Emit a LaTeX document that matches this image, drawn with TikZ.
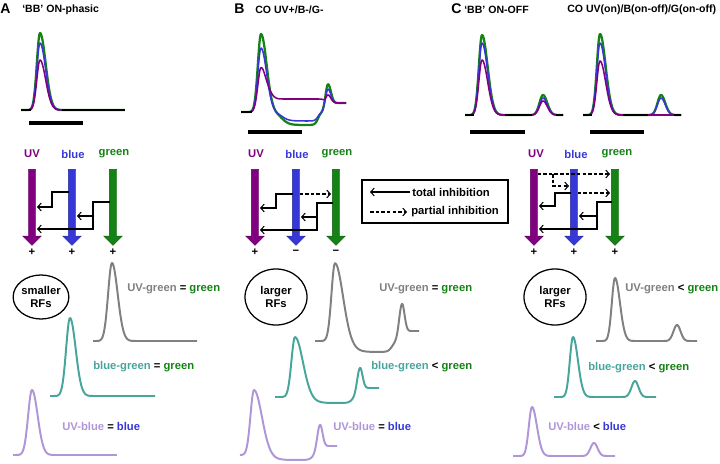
\documentclass[tikz,border=0pt]{standalone}
\usepackage{fontspec}
\setmainfont{Liberation Sans}
\usetikzlibrary{arrows.meta,calc,shapes.arrows,shapes.geometric}

\definecolor{uvcol}{RGB}{128,0,128}
\definecolor{bluecol}{RGB}{55,55,215}
\definecolor{greencol}{RGB}{20,130,20}
\definecolor{graycol}{RGB}{128,128,128}
\definecolor{tealcol}{RGB}{72,165,155}
\definecolor{lavcol}{RGB}{175,150,215}

\tikzset{
  lbl/.style={font=\bfseries\fontsize{8}{9.3}\selectfont, inner sep=0pt, anchor=west},
  ttl/.style={lbl, font=\bfseries\fontsize{7.5}{9}\selectfont},
  plabel/.style={lbl, font=\bfseries\fontsize{10}{12}\selectfont},
  hd/.style={lbl, anchor=center},
  conebar/.style={single arrow, shape border rotate=270, minimum height=1.9cm,
    inner sep=0.0875cm, single arrow head extend=0.14cm,
    fill=#1, draw=#1!70!black, line width=0.3pt},
  inhib/.style={line width=0.75pt, -{Straight Barb[length=2.5pt,width=5.5pt]}},
  partinh/.style={inhib, dash pattern=on 2.5pt off 1.5pt},
  sbar/.style={line width=2.2pt},
  rf/.style={ellipse, draw, line width=0.9pt, inner sep=0pt, align=center,
    font=\bfseries\fontsize{8}{9.3}\selectfont},
  resp/.style={line width=1.1pt, line join=round},
  diffresp/.style={line width=1.4pt, line join=round},
}

\begin{document}
\begin{tikzpicture}[x=0.025cm, y=-0.025cm,
  declare function={
    pk(\xv,\cv,\rv,\dv)=exp(-1*(min(abs(\xv-\cv)/((\xv<\cv)*\rv+(1-(\xv<\cv))*\dv),4))^2);
    st(\xv,\cv,\sv)=0.5+0.5*tanh(max(min((\xv-\cv)/\sv,4),-4));
  }]
  \useasboundingbox (0,0) rectangle (720,464);

  % Panel letters and titles
  \node[plabel] (labA) at (0,9) {A};
  \node[ttl] (titA) at (22,10) {‘BB’ ON-phasic};
  \node[plabel] (labB) at (234,9) {B};
  \node[ttl] (titB) at (255,10) {CO UV+/B-/G-};
  \node[plabel] (labC) at (451,9) {C};
  \node[ttl] (titC) at (464,10) {‘BB’ ON-OFF};
  \node[ttl] (titCo) at (567,10) {CO UV(on)/B(on-off)/G(on-off)};

  % Recorded responses, panel A
  \foreach \col/\amp/\lw in {greencol/77/1.6pt, bluecol/67/1.1pt, uvcol/50/1.1pt}
    \draw[resp, \col, line width=\lw] plot[domain=21:125, samples=200] (\x,{110-\amp*pk(\x,40,4.5,8)});
  \draw[resp, black] (21,110) -- (31,110) (62,110) -- (125,110);
  \draw[sbar] (29,123) -- (83,123);

  % Recorded responses, panel B
  \draw[resp, greencol, line width=1.6pt] plot[domain=241:346, samples=200]
    (\x,{112-78*pk(\x,261,4.5,8)+13*(st(\x,282,7)-st(\x,318,3))-19*pk(\x,328,3,4)-9*st(\x,324,2)});
  \draw[resp, bluecol] plot[domain=241:346, samples=200]
    (\x,{112-64*pk(\x,261,4.5,8)+9*(st(\x,282,7)-st(\x,318,3))-14*pk(\x,328,3,4)-9*st(\x,324,2)});
  \draw[resp, uvcol] plot[domain=241:346, samples=200]
    (\x,{112-44*pk(\x,261,4.5,8)-13*(st(\x,268,4)-st(\x,324,2))-8*pk(\x,328,3,4)-9*st(\x,324,2)});
  \draw[resp, black] (241,112) -- (252,112);
  \draw[sbar] (248,132) -- (302,132);

  % Recorded responses, panel C
  \foreach \col/\amp/\bmp/\lw in {greencol/80/20/1.6pt, bluecol/72/17/1.1pt, uvcol/55/14/1.1pt}
    \draw[resp, \col, line width=\lw] plot[domain=465:563, samples=200]
      (\x,{115-\amp*pk(\x,482,4.5,8)-\bmp*pk(\x,543,5,6)});
  \draw[resp, black] (465,115) -- (474,115) (505,115) -- (532,115) (556,115) -- (563,115);
  \draw[sbar] (470,132) -- (525,132);
  \foreach \col/\amp/\bmp/\lw in {greencol/81/20/1.6pt, bluecol/72/17/1.1pt, uvcol/54/0/1.1pt}
    \draw[resp, \col, line width=\lw] plot[domain=583:681, samples=200]
      (\x,{115-\amp*pk(\x,600,4.5,8)-\bmp*pk(\x,661,5,6)});
  \draw[resp, black] (583,115) -- (592,115) (623,115) -- (648,115) (674,115) -- (681,115);
  \draw[sbar] (590,132) -- (644,132);

  % Cone inputs, panel A
  \node[conebar=uvcol] (uvA) at (32,205.5) {};
  \node[conebar=bluecol] (blueA) at (72,205.5) {};
  \node[conebar=greencol] (greenA) at (113,205.5) {};
  \node[hd, text=uvcol] (uvAl) at (32,154) {UV};
  \node[hd, text=bluecol] (blueAl) at (73,154) {blue};
  \node[hd, text=greencol] (greenAl) at (114,154) {green};
  \node[hd] (uvAs) at (32,252) {+};
  \node[hd] (blueAs) at (72,252) {+};
  \node[hd] (greenAs) at (113,252) {+};
  \draw[inhib] ($(blueA |- 0,192)+(-3.5,0)$) -| (52,207) -- ($(uvA |- 0,207)+(5,0)$);
  \draw[inhib] ($(greenA |- 0,202)+(-3.5,0)$) -| (93,229) -- ($(uvA |- 0,229)+(5,0)$);
  \draw[inhib] (93,216) -- ($(blueA |- 0,216)+(5,0)$);

  % Cone inputs, panel B
  \node[conebar=uvcol] (uvB) at (255,205.5) {};
  \node[conebar=bluecol] (blueB) at (296,205.5) {};
  \node[conebar=greencol] (greenB) at (336,205.5) {};
  \node[hd, text=uvcol] (uvBl) at (256,154) {UV};
  \node[hd, text=bluecol] (blueBl) at (297,154) {blue};
  \node[hd, text=greencol] (greenBl) at (337,154) {green};
  \node[hd] (uvBs) at (255,252) {+};
  \node[hd] (blueBs) at (296,252) {−};
  \node[hd] (greenBs) at (336,252) {−};
  \draw[inhib] ($(blueB |- 0,194)+(-3.5,0)$) -| (276,208) -- ($(uvB |- 0,208)+(5,0)$);
  \draw[partinh] ($(blueB |- 0,194)+(3.5,0)$) -- ($(greenB |- 0,194)+(-5,0)$);
  \draw[inhib] ($(greenB |- 0,203)+(-3.5,0)$) -| (317,230) -- ($(uvB |- 0,230)+(5,0)$);
  \draw[inhib] (317,217) -- ($(blueB |- 0,217)+(5,0)$);

  % Legend
  \node[draw, line width=0.9pt, minimum width=3.65cm, minimum height=1.075cm] (legend) at (435,201.5) {};
  \node[lbl] (total) at (412,192) {total inhibition};
  \node[lbl] (partial) at (411,212) {partial inhibition};
  \draw[inhib] ($(total.west)+(-2,0)$) -- ++(-40,0);
  \draw[partinh] ($(partial.west)+(-41,0)$) -- ++(37,0);

  % Cone inputs, panel C
  \node[conebar=uvcol] (uvC) at (534,205.5) {};
  \node[conebar=bluecol] (blueC) at (574,205.5) {};
  \node[conebar=greencol] (greenC) at (615,205.5) {};
  \node[hd, text=uvcol] (uvCl) at (536,154) {UV};
  \node[hd, text=bluecol] (blueCl) at (576,154) {blue};
  \node[hd, text=greencol] (greenCl) at (617,154) {green};
  \node[hd] (uvCs) at (534,252) {+};
  \node[hd] (blueCs) at (574,252) {+};
  \node[hd] (greenCs) at (615,252) {+};
  \draw[partinh] ($(uvC |- 0,174)+(3.5,0)$) -- ($(greenC |- 0,174)+(-5,0)$);
  \draw[partinh] (553,174) |- ($(blueC |- 0,186)+(-5,0)$);
  \draw[partinh] ($(blueC |- 0,193)+(3.5,0)$) -- ($(greenC |- 0,193)+(-5,0)$);
  \draw[inhib] ($(blueC |- 0,193)+(-3.5,0)$) -| (555,206) -- ($(uvC |- 0,206)+(5,0)$);
  \draw[inhib] ($(greenC |- 0,202)+(-3.5,0)$) -| (597,229) -- ($(uvC |- 0,229)+(5,0)$);
  \draw[inhib] (597,216) -- ($(blueC |- 0,216)+(5,0)$);

  % Receptive fields
  \node[rf, minimum width=1.17cm, minimum height=1.1cm] (rfA) at (41,297) {smaller\\RFs};
  \node[rf, minimum width=1.55cm, minimum height=1.4cm] (rfB) at (276,297) {larger\\RFs};
  \node[rf, minimum width=1.55cm, minimum height=1.4cm] (rfC) at (555,297) {larger\\RFs};

  % Difference traces, panel A
  \draw[diffresp, graycol] plot[domain=93:197, samples=200] (\x,{341-78*pk(\x,112,5.5,8)});
  \draw[diffresp, tealcol] plot[domain=50:155, samples=200] (\x,{396-78*pk(\x,70,5.5,8)});
  \draw[diffresp, lavcol] plot[domain=13:117, samples=200] (\x,{455-65*pk(\x,32,5.5,8)});
  \node[lbl] (ugA) at (127,289) {\textcolor{graycol}{UV-green} = \textcolor{greencol}{green}};
  \node[lbl] (bgA) at (93,367) {\textcolor{tealcol}{blue-green} = \textcolor{greencol}{green}};
  \node[lbl] (ubA) at (62,426) {\textcolor{lavcol}{UV-blue} = \textcolor{bluecol}{blue}};

  % Difference traces, panel B
  \draw[diffresp, graycol] plot[domain=315:419, samples=200]
    (\x,{341-78*pk(\x,335,5,11)+11*(st(\x,352,9)-st(\x,392,4))-28*pk(\x,402,4,3.5)-10*st(\x,399,2.5)});
  \draw[diffresp, tealcol] plot[domain=275:379, samples=200]
    (\x,{397-60*pk(\x,295,5,11)+6*(st(\x,312,9)-st(\x,352,4))-21*pk(\x,360,4,3.5)-9*st(\x,357,2.5)});
  \draw[diffresp, lavcol] plot[domain=240:337, samples=200]
    (\x,{455-65*pk(\x,254,5,11)+5*(st(\x,272,9)-st(\x,312,4))-22*pk(\x,320,4,3.5)-9*st(\x,317,2.5)});
  \node[lbl] (ugB) at (379,289) {\textcolor{graycol}{UV-green} = \textcolor{greencol}{green}};
  \node[lbl] (bgB) at (371,367) {\textcolor{tealcol}{blue-green} < \textcolor{greencol}{green}};
  \node[lbl] (ubB) at (333,426) {\textcolor{lavcol}{UV-blue} = \textcolor{bluecol}{blue}};

  % Difference traces, panel C
  \draw[diffresp, graycol] plot[domain=596:697, samples=200] (\x,{341-63*pk(\x,615,4.5,7)-16*pk(\x,677,5,5)});
  \draw[diffresp, tealcol] plot[domain=554:656, samples=200] (\x,{397-60*pk(\x,573,4.5,7)-16*pk(\x,635,5,5)});
  \draw[diffresp, lavcol] plot[domain=513:615, samples=200] (\x,{456-49*pk(\x,532,4.5,7)-13*pk(\x,594,5,5)});
  \node[lbl] (ugC) at (625,289) {\textcolor{graycol}{UV-green} < \textcolor{greencol}{green}};
  \node[lbl] (bgC) at (588,368) {\textcolor{tealcol}{blue-green} < \textcolor{greencol}{green}};
  \node[lbl] (ubC) at (548,426) {\textcolor{lavcol}{UV-blue} < \textcolor{bluecol}{blue}};
\end{tikzpicture}
\end{document}
